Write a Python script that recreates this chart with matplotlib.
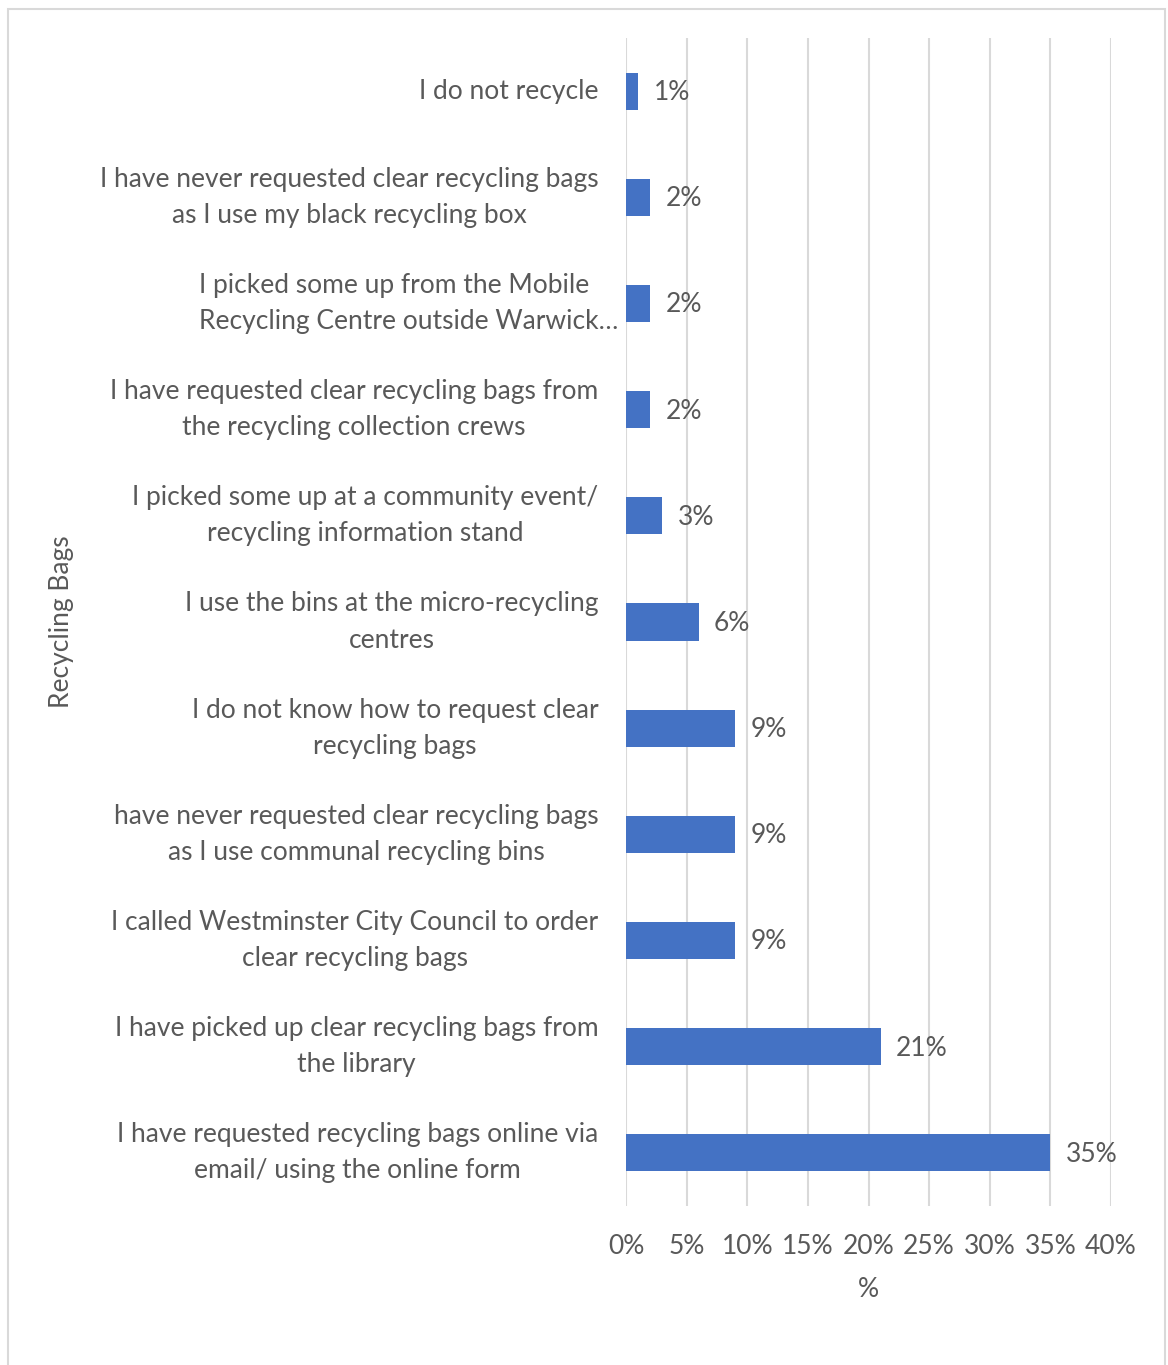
import matplotlib.pyplot as plt
from matplotlib.patches import Rectangle
from matplotlib.ticker import MultipleLocator, FuncFormatter
from matplotlib.transforms import ScaledTranslation

plt.rcParams['font.family'] = ['Lato', 'DejaVu Sans']

# survey answers, top to bottom as shown
categories = [
    "I do not recycle",
    "I have never requested clear recycling bags\nas I use my black recycling box",
    "I picked some up from the Mobile\nRecycling Centre outside Warwick\u2026",
    "I have requested clear recycling bags from\nthe recycling collection crews",
    "I picked some up at a community event/\nrecycling information stand",
    "I use the bins at the micro-recycling\ncentres",
    "I do not know how to request clear\nrecycling bags",
    "have never requested clear recycling bags\nas I use communal recycling bins",
    "I called Westminster City Council to order\nclear recycling bags",
    "I have picked up clear recycling bags from\nthe library",
    "I have requested recycling bags online via\nemail/ using the online form",
]
percent = [1, 2, 2, 2, 3, 6, 9, 9, 9, 21, 35]
x_ticks = [0, 5, 10, 15, 20, 25, 30, 35, 40]

TEXT = '#595959'
BAR = '#4472C4'
GRID = '#D9D9D9'
FS = 19
W, H = 1168, 1365

fig = plt.figure(figsize=(W / 100, H / 100), dpi=100)
ax = fig.add_axes([626 / W, 1 - 1206 / H, (1111 - 626) / W, (1206 - 38) / H])

pos = list(range(len(categories)))
ax.barh(pos, percent, height=0.35, color=BAR, zorder=3)
ax.set_ylim(len(categories) - 0.5, -0.5)
ax.set_xlim(x_ticks[0], x_ticks[-1])

ax.xaxis.set_major_locator(MultipleLocator(5))
ax.xaxis.set_major_formatter(FuncFormatter(lambda v, p: f'{v:.0f}%'))
ax.tick_params(axis='x', length=0, pad=20, labelsize=FS, labelcolor=TEXT)
ax.tick_params(axis='y', length=0, pad=20)

ax.set_yticks(pos)
ax.set_yticklabels(categories, fontsize=FS, color=TEXT, ha='right', va='center',
                   multialignment='center', linespacing=1.55)
# the truncated label runs past the others
lbl = ax.get_yticklabels()[2]
lbl.set_multialignment('left')
lbl.set_transform(lbl.get_transform() + ScaledTranslation(0.2, 0, fig.dpi_scale_trans))

ax.grid(axis='x', color=GRID, linewidth=1.5, zorder=0)
for s in ax.spines.values():
    s.set_visible(False)

for y, v in zip(pos, percent):
    ax.annotate(f'{v}%', (v, y), xytext=(11, -1), textcoords='offset points',
                ha='left', va='center', fontsize=FS, color=TEXT)

ax.set_xlabel('%', fontsize=FS, color=TEXT, labelpad=13)
fig.text(62 / W, 1 - 622 / H, 'Recycling Bags', rotation=90, fontsize=FS,
         color=TEXT, ha='center', va='center')

# chart frame, open at the bottom
fig.patches.append(Rectangle((8 / W, -0.01), (1165 - 8) / W, 1.01 - 9 / H,
                             transform=fig.transFigure, fill=False,
                             edgecolor=GRID, linewidth=1.5))

fig.savefig('out.png', dpi=100, facecolor='white')
